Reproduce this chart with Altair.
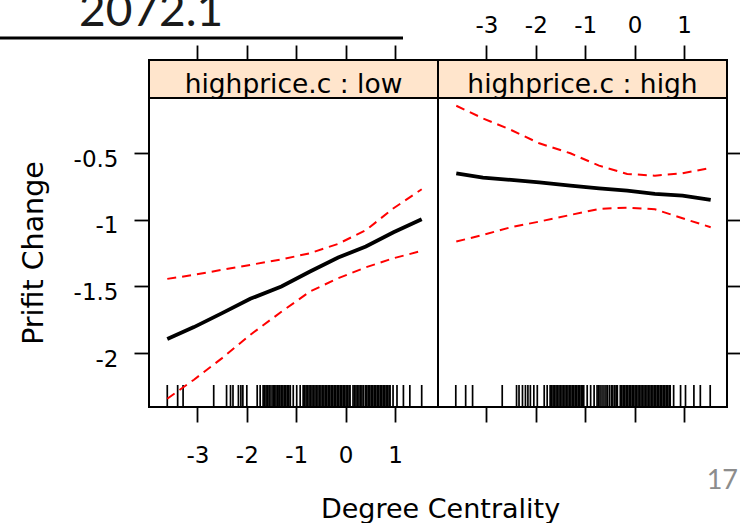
import altair as alt
import pandas as pd

# ---------------- data ----------------
panel_labels = ["highprice.c : low", "highprice.c : high"]

x_grid = [-3.61, -3.07, -2.5, -1.93, -1.3, -0.72, -0.15, 0.41, 0.97, 1.54]

fit_low = [-1.895, -1.805, -1.70, -1.593, -1.50, -1.388, -1.283, -1.20, -1.093, -0.995]
upper_low = [-1.443, -1.413, -1.375, -1.338, -1.297, -1.25, -1.18, -1.077, -0.913, -0.77]
lower_low = [-2.343, -2.20, -2.038, -1.863, -1.69, -1.538, -1.438, -1.356, -1.288, -1.233]

fit_high = [-0.65, -0.683, -0.70, -0.718, -0.743, -0.763, -0.78, -0.805, -0.818, -0.85]
upper_high = [-0.143, -0.238, -0.325, -0.425, -0.50, -0.593, -0.655, -0.668, -0.65, -0.61]
lower_high = [-1.163, -1.113, -1.055, -1.013, -0.963, -0.918, -0.908, -0.92, -0.988, -1.055]

rug_low = [-3.61, -3.40, -3.29, -2.67, -2.41, -2.33, -2.28, -2.17, -2.12, -2.08, -2.00,
           -1.79, -1.73, -1.67, -1.64, -1.61, -1.58, -1.55, -1.53,
           -1.49, -1.46, -1.44, -1.41, -1.38, -1.35, -1.33, -1.30, -1.27, -1.24, -1.21,
           -1.18, -1.15, -1.12, -1.06, -0.99, -0.92,
           -0.86, -0.83, -0.80, -0.77, -0.74, -0.71, -0.68, -0.65, -0.62, -0.59, -0.56,
           -0.53, -0.50, -0.47, -0.44, -0.41, -0.38, -0.35, -0.32, -0.29, -0.26, -0.23,
           -0.20, -0.17, -0.14, -0.11, -0.08, -0.05, -0.02, 0.01, 0.04, 0.07, 0.09,
           0.15, 0.18, 0.21, 0.24, 0.27, 0.30, 0.33, 0.36, 0.40, 0.43, 0.46, 0.49, 0.52,
           0.55, 0.58, 0.61, 0.64, 0.67, 0.70, 0.73, 0.76, 0.79, 0.82, 0.85, 0.88, 0.90,
           0.96, 1.04, 1.17, 1.30, 1.54]

rug_high = [-3.62, -3.42, -3.28, -2.68, -2.39, -2.34, -2.27, -2.21, -2.16, -2.11, -2.04,
            -1.97, -1.83, -1.77, -1.71, -1.68, -1.65, -1.62, -1.59, -1.56, -1.53, -1.50,
            -1.47, -1.44, -1.41, -1.38, -1.35, -1.32, -1.29, -1.26, -1.23, -1.20, -1.17,
            -1.14, -1.11, -1.08, -1.05, -1.03, -0.96, -0.89, -0.82,
            -0.76, -0.73, -0.70, -0.66, -0.62, -0.58, -0.55, -0.51, -0.47, -0.44, -0.40,
            -0.37, -0.35, -0.29, -0.26, -0.23, -0.20, -0.17, -0.14, -0.11, -0.08, -0.05,
            -0.02, 0.01, 0.04, 0.07, 0.10, 0.13, 0.16, 0.19, 0.22, 0.25, 0.28, 0.31, 0.34,
            0.37, 0.40, 0.43, 0.46, 0.49, 0.52, 0.55, 0.58, 0.61, 0.64, 0.67, 0.70, 0.72,
            0.79, 0.93, 1.03, 1.20, 1.33, 1.53]

x_ticks = [-3, -2, -1, 0, 1]
y_ticks = [-2, -1.5, -1, -0.5]
x_domain = [-3.98, 1.87]
y_domain = [-2.405, -0.085]

slide_title = ["2072.1"]
page_number = ["17"]

# ---------------- layout / style ----------------
PW, PH, SH = 289, 309, 38
FONT = "DejaVu Sans"
LBL = 23
STRIP_FILL = "#ffe5cc"

xs = alt.Scale(domain=x_domain, nice=False, zero=False)
ys = alt.Scale(domain=y_domain, nice=False, zero=False)
LABEXPR = "'' + datum.value"


def curve_frame(fit, lower, upper):
    rows = []
    for name, vals in (("fit", fit), ("lower", lower), ("upper", upper)):
        for xv, yv in zip(x_grid, vals):
            rows.append({"x": xv, "y": yv, "series": name})
    return pd.DataFrame(rows)


def panel(fit, lower, upper, rug, left):
    if left:
        xaxis = alt.Axis(orient="bottom", values=x_ticks, labelExpr=LABEXPR, labelPadding=22,
                         labelBaseline="top", tickSize=15, labelOverlap=False,
                         title="Degree Centrality", titleX=291, titleY=110,
                         titleBaseline="alphabetic", titleFontSize=27, titleAlign="center")
        yaxis = alt.Axis(orient="left", values=y_ticks, labelExpr=LABEXPR, labelPadding=16,
                         labelOffset=6, labelBaseline="middle", tickSize=15, labelOverlap=False,
                         title="Prifit Change", titleX=-107, titleBaseline="alphabetic",
                         titleFontSize=28.5)
    else:
        xaxis = alt.Axis(orient="bottom", values=x_ticks, labels=False, tickSize=15, title=None)
        yaxis = alt.Axis(orient="right", values=y_ticks, labels=False, tickSize=15, title=None)

    cdf = curve_frame(fit, lower, upper)
    rdf = pd.DataFrame({"x": rug})
    xenc = alt.X("x:Q", scale=xs, axis=xaxis)
    yenc = alt.Y("y:Q", scale=ys, axis=yaxis)

    rug_layer = alt.Chart(rdf).mark_rule(color="black", strokeWidth=1.7).encode(
        x=xenc, y=alt.value(PH - 22), y2=alt.value(PH))
    ci_layer = alt.Chart(cdf).transform_filter("datum.series != 'fit'").mark_line(
        color="#ff0000", strokeWidth=2, strokeDash=[9, 6]).encode(
        x=xenc, y=yenc, detail="series:N")
    fit_layer = alt.Chart(cdf).transform_filter("datum.series == 'fit'").mark_line(
        color="black", strokeWidth=3.8).encode(x=xenc, y=yenc)
    return alt.layer(rug_layer, ci_layer, fit_layer).properties(width=PW, height=PH)


def strip(label, left):
    if left:
        taxis = alt.Axis(orient="top", values=x_ticks, labels=False, tickSize=15, title=None)
    else:
        taxis = alt.Axis(orient="top", values=x_ticks, labelExpr=LABEXPR, labelPadding=12.7,
                         labelBaseline="alphabetic", tickSize=15, labelOverlap=False, title=None)
    tick_layer = alt.Chart(pd.DataFrame({"x": x_ticks})).mark_rule(opacity=0).encode(
        x=alt.X("x:Q", scale=xs, axis=taxis))
    text_layer = alt.Chart(pd.DataFrame({"label": [label]})).mark_text(
        font=FONT, fontSize=26.5, color="black", align="center", baseline="alphabetic").encode(
        text="label:N", x=alt.value(PW / 2), y=alt.value(32.5))
    layers = [tick_layer, text_layer]
    if left:
        title_layer = alt.Chart(pd.DataFrame({"t": slide_title})).mark_text(
            font="Lato", fontSize=46, color="#1a1a1a", align="left", baseline="alphabetic").encode(
            text="t:N", x=alt.value(-70), y=alt.value(-34))
        line_layer = alt.Chart(pd.DataFrame({"t": slide_title})).mark_rule(
            color="black", strokeWidth=3).encode(x=alt.value(-149), x2=alt.value(254), y=alt.value(-22))
        page_layer = alt.Chart(pd.DataFrame({"t": page_number})).mark_text(
            font="Lato", fontSize=27, color="#8c8c8c", align="right", baseline="alphabetic").encode(
            text="t:N", x=alt.value(589), y=alt.value(429))
        layers += [title_layer, line_layer, page_layer]
    return alt.layer(*layers).properties(
        width=PW, height=SH,
        view=alt.ViewBackground(fill=STRIP_FILL, stroke="black", strokeWidth=2))


chart = alt.concat(
    strip(panel_labels[0], True),
    strip(panel_labels[1], False),
    panel(fit_low, lower_low, upper_low, rug_low, True),
    panel(fit_high, lower_high, upper_high, rug_high, False),
    columns=2, spacing=0, bounds="flush",
).properties(
    autosize=alt.AutoSizeParams(type="none"),
    padding={"left": 149, "top": 60, "right": 591, "bottom": 463},
    background="white",
).configure_view(
    stroke="black", strokeWidth=2
).configure_axis(
    grid=False, domain=False, tickColor="black", tickWidth=1.8,
    labelFont=FONT, labelFontSize=LBL, labelColor="black",
    titleFont=FONT, titleColor="black", titleFontWeight="normal",
)

chart.save("out.html", embed_options={"renderer": "svg", "actions": False})
